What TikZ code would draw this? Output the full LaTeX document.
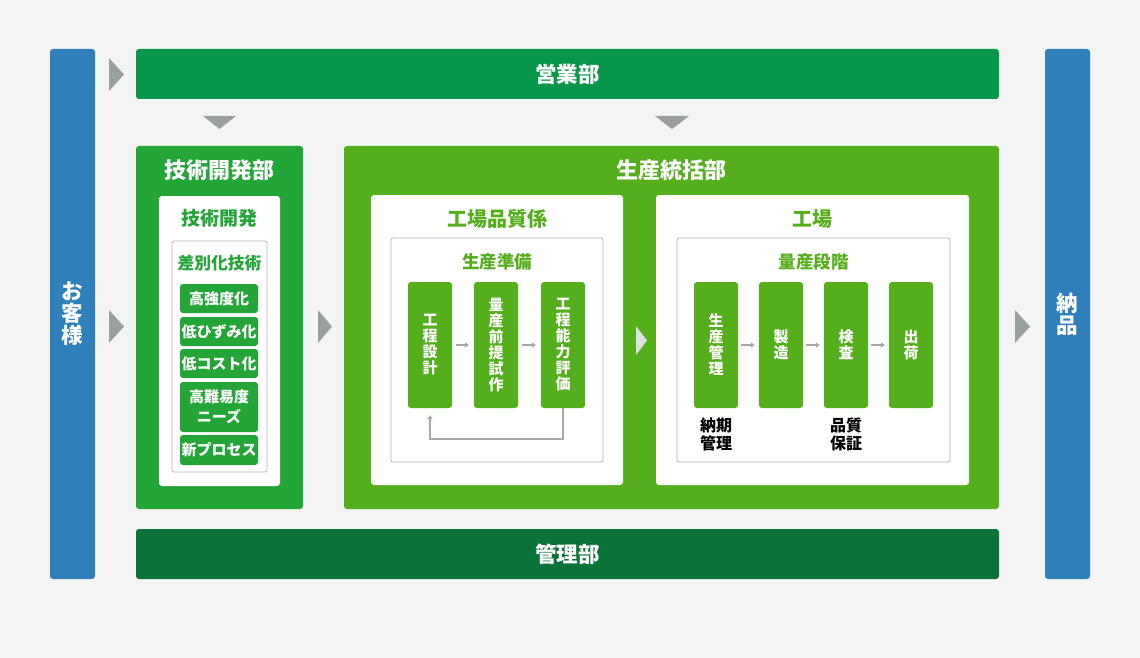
\documentclass[tikz,border=0pt]{standalone}
\usepackage{fontspec}
\setmainfont{Noto Sans CJK JP}
\usetikzlibrary{arrows.meta}
\definecolor{bgc}{HTML}{F4F4F4}
\definecolor{kyakuc}{HTML}{2E7FBA}
\definecolor{eigyoc}{HTML}{07964A}
\definecolor{kanric}{HTML}{0A7438}
\definecolor{gijutsuc}{HTML}{23A538}
\definecolor{seisanc}{HTML}{55AF1D}
\definecolor{tric}{HTML}{9AA09D}
\definecolor{linec}{HTML}{B4B4B4}
\definecolor{flowc}{HTML}{A8A8A8}

\begin{document}
\begin{tikzpicture}[x=1pt,y=-1pt]
    \tikzset{box/.style={rectangle,rounded corners=3pt,inner sep=0pt,text=white,font=\bfseries\fontsize{21.5}{22}\selectfont,align=center},
             panel/.style={rectangle,rounded corners=3pt,inner sep=0pt,fill=white},
             frame/.style={rectangle,rounded corners=2pt,inner sep=0pt,draw=linec,line width=0.8pt,fill=white},
             title/.style={font=\bfseries\fontsize{#1}{#1}\selectfont,inner sep=0pt},
             item/.style={rectangle,rounded corners=3pt,inner sep=0pt,fill=gijutsuc,text=white,minimum width=78,font=\bfseries\fontsize{15}{20}\selectfont,align=center},
             stage/.style={rectangle,rounded corners=3pt,inner sep=0pt,fill=seisanc,text=white,minimum width=44,minimum height=126,font=\bfseries\fontsize{15}{16}\selectfont,align=center},
             flow/.style={draw=flowc,line width=1.5pt,-{Triangle[length=4pt,width=5pt]}}}
    \useasboundingbox[fill=bgc] (0,0) rectangle (1140,658);
    \node[box,fill=kyakuc,minimum width=45,minimum height=530] (kyaku) at (72.5,314) {お\\客\\様};
    \node[box,fill=kyakuc,minimum width=45,minimum height=530] (nohin) at (1067.5,314) {納\\品};
    \node[box,fill=eigyoc,minimum width=863,minimum height=50] (eigyo) at (567.5,74) {営業部};
    \node[box,fill=kanric,minimum width=863,minimum height=50] (kanri) at (567.5,554) {管理部};
    \node[box,fill=gijutsuc,minimum width=167,minimum height=363] (gijutsu) at (219.5,327.5) {};
    \node[box,fill=seisanc,minimum width=655,minimum height=363] (seisan) at (671.5,327.5) {};
    \node[title=22,text=white] (gijutsuT) at ([yshift=-24]gijutsu.north) {技術開発部};
    \node[title=22,text=white] (seisanT) at ([yshift=-24]seisan.north) {生産統括部};
    % 技術開発
    \node[panel,minimum width=121,minimum height=290] (kaihatsu) at (219.5,341) {};
    \node[title=19,text=gijutsuc] (kaihatsuT) at ([yshift=-23]kaihatsu.north) {技術開発};
    \node[frame,minimum width=95,minimum height=231] (sabetsu) at (219.5,356.5) {};
    \node[title=16.8,text=gijutsuc] (sabetsuT) at ([yshift=-22.5]sabetsu.north) {差別化技術};
    \node[item,minimum height=29] (i1) at (219,298.5) {高強度化};
    \node[item,minimum height=29] (i2) at (219,331.5) {低ひずみ化};
    \node[item,minimum height=29] (i3) at (219,363.5) {低コスト化};
    \node[item,minimum height=50] (i4) at (219,407) {高難易度\\ニーズ};
    \node[item,minimum height=30] (i5) at (219,450) {新プロセス};
    % 工場品質係
    \node[panel,minimum width=252,minimum height=290] (hinshitsu) at (497,340) {};
    \node[title=20,text=seisanc] (hinshitsuT) at ([yshift=-24]hinshitsu.north) {工場品質係};
    \node[frame,minimum width=212,minimum height=224] (junbi) at (497,350) {};
    \node[title=17.5,text=seisanc] (junbiT) at ([yshift=-24.5]junbi.north) {生産準備};
    \node[stage] (j1) at (430,345) {工\\程\\設\\計};
    \node[stage] (j2) at (496,345) {量\\産\\前\\提\\試\\作};
    \node[stage] (j3) at (563,345) {工\\程\\能\\力\\評\\価};
    \draw[flow,shorten <=4pt,shorten >=5pt] (j1) -- (j2);
    \draw[flow,shorten <=4pt,shorten >=5pt] (j2) -- (j3);
    \draw[flow,shorten >=7pt] (j3.south) -- ++(0,31) -| (j1.south);
    % 工場
    \node[panel,minimum width=313,minimum height=290] (kojo) at (812.5,340) {};
    \node[title=20,text=seisanc] (kojoT) at ([yshift=-24]kojo.north) {工場};
    \node[frame,minimum width=273,minimum height=224] (ryosan) at (813.5,350) {};
    \node[title=17.5,text=seisanc] (ryosanT) at ([yshift=-24.5]ryosan.north) {量産段階};
    \node[stage] (r1) at (716,345) {生\\産\\管\\理};
    \node[stage] (r2) at (781,345) {製\\造};
    \node[stage] (r3) at (846,345) {検\\査};
    \node[stage] (r4) at (911,345) {出\\荷};
    \draw[flow,shorten <=3pt,shorten >=4pt] (r1) -- (r2);
    \draw[flow,shorten <=3pt,shorten >=4pt] (r2) -- (r3);
    \draw[flow,shorten <=3pt,shorten >=4pt] (r3) -- (r4);
    \node[title=16,align=center,font=\bfseries\fontsize{16}{18.5}\selectfont] (noki) at ([yshift=-26]r1.south) {納期\\管理};
    \node[title=16,align=center,font=\bfseries\fontsize{16}{18.5}\selectfont] (hosho) at ([yshift=-26]r3.south) {品質\\保証};
    % 矢印
    \fill[tric] (109,58) -- (124,74.5) -- (109,91) -- cycle;
    \fill[tric] (109,310) -- (124,326.5) -- (109,343) -- cycle;
    \fill[tric] (318,310) -- (332,326.5) -- (318,343) -- cycle;
    \fill[tric] (1015,310) -- (1030,326.5) -- (1015,343) -- cycle;
    \fill[tric] (203,116) -- (236,116) -- (219.5,129) -- cycle;
    \fill[tric] (655,116) -- (689,116) -- (672,129) -- cycle;
    \fill[white!88!black] (636,326) -- (647,340.5) -- (636,355) -- cycle;
\end{tikzpicture}
\end{document}
